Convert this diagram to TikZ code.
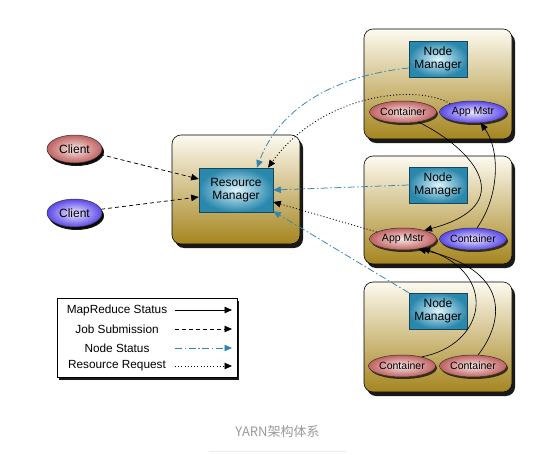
\documentclass[tikz,border=0pt]{standalone}
\usepackage{fontspec}
\setmainfont{Liberation Sans}
\newfontfamily\cjkfont{Noto Sans CJK SC}
\usetikzlibrary{shadows,arrows.meta,calc,shapes.geometric}
\definecolor{boxtop}{HTML}{FDFAF0}
\definecolor{boxmid}{HTML}{E8D9A8}
\definecolor{boxbot}{HTML}{A5851F}
\definecolor{tealout}{HTML}{2A88AD}
\definecolor{tealin}{HTML}{DDF5FC}
\definecolor{tealedge}{HTML}{16465E}
\definecolor{redout}{HTML}{C06060}
\definecolor{redin}{HTML}{F8E8E8}
\definecolor{purout}{HTML}{5A48E8}
\definecolor{purin}{HTML}{EEEAFF}
\definecolor{nsblue}{HTML}{3384AE}
\definecolor{capgray}{HTML}{9A9A9A}
\definecolor{rulegray}{HTML}{ECECEC}
\begin{document}
\begin{tikzpicture}[x=1pt,y=-1pt,
  hostbox/.style={draw=black, line width=0.6pt, rounded corners=9pt,
    minimum width=148pt, minimum height=110pt, inner sep=0pt,
    top color=boxtop, middle color=boxmid, bottom color=boxbot,
    drop shadow={shadow xshift=3pt,shadow yshift=-4pt,fill=black,opacity=0.9}},
  mgr/.style={draw=tealedge, line width=0.6pt, inner color=tealin, outer color=tealout,
    minimum width=58pt, minimum height=36pt, inner sep=0pt, align=center,
    font=\fontsize{12}{13.5}\selectfont},
  redell/.style={ellipse, draw=black!80, line width=0.5pt, inner color=redin, outer color=redout,
    minimum width=67pt, minimum height=22pt, inner sep=0pt,
    font=\fontsize{10.5}{11}\selectfont,
    drop shadow={shadow xshift=1.5pt,shadow yshift=-2pt,fill=black,opacity=0.7}},
  purell/.style={redell, inner color=purin, outer color=purout},
  clientred/.style={redell, minimum width=55pt, minimum height=28pt,
    font=\fontsize{12}{13}\selectfont,
    drop shadow={shadow xshift=2pt,shadow yshift=-3pt,fill=black,opacity=0.9}},
  clientpur/.style={clientred, inner color=purin, outer color=purout},
  tipk/.style={-{Triangle[length=7.5pt,width=6.5pt]}},
  mrstat/.style={tipk, draw=black, line width=0.65pt},
  jobsub/.style={tipk, draw=black, line width=0.75pt, dash pattern=on 4pt off 3pt},
  nodestat/.style={tipk, draw=nsblue, line width=0.75pt, dash pattern=on 7pt off 2.5pt on 1.5pt off 2.5pt},
  resreq/.style={tipk, draw=black, line width=0.85pt, dash pattern=on 1pt off 2.2pt},
  legtxt/.style={font=\fontsize{11.8}{12.5}\selectfont, inner sep=0pt}
]
\useasboundingbox (0,0) rectangle (560,455);
\fill[white] (0,0) rectangle (560,455);

% host boxes
\node[hostbox] (b1) at (438,84) {};
\node[hostbox, minimum height=108pt] (b2) at (438,210) {};
\node[hostbox] (b3) at (438,337) {};
\node[hostbox, minimum width=128pt, minimum height=109pt] (rmbox) at (236,189.5) {};

% managers
\node[mgr] (nm1) at (438,59) {Node\\Manager};
\node[mgr] (nm2) at (438,185) {Node\\Manager};
\node[mgr] (nm3) at (438,311) {Node\\Manager};
\node[mgr, minimum width=74pt, minimum height=44pt] (rm) at (236,190) {Resource\\Manager};

% ellipses
\node[redell] (c1) at (403,112) {Container};
\node[purell] (am1) at (473,112) {App Mstr};
\node[redell] (am2) at (403,239) {App Mstr};
\node[purell] (c2) at (473,239) {Container};
\node[redell] (c3a) at (402,366) {Container};
\node[redell] (c3b) at (473,366) {Container};

% clients
\node[clientred] (cl1) at (74.5,149) {Client};
\node[clientpur] (cl2) at (74.5,213) {Client};

% job submission
\draw[jobsub] (cl1.-12) -- ($(rm.west)+(0,-11)$);
\draw[jobsub] (cl2.8) -- ($(rm.west)+(0,7)$);

% node status
\draw[nodestat] ($(nm1.west)+(0,9)$) .. controls (340,75) and (280,105) .. ($(rm.north)+(21,0)$);
\draw[nodestat] (nm2.west) -- (rm.east);
\draw[nodestat] (nm3.north west) -- ($(rm.south east)+(0,-1)$);

% resource requests
\draw[resreq] (am1.160) .. controls (415,83) and (320,95) .. ($(rm.north)+(32,0)$);
\draw[resreq] (am2.165) -- ($(rm.east)+(0,12)$);

% mapreduce status
\draw[mrstat] (c1.-33) .. controls (475,150) and (520,205) .. (am2.22);
\draw[mrstat] (c2.70) .. controls (500,195) and (500,150) .. (am1.-55);
\draw[mrstat] (c3a.25) .. controls (485,345) and (500,275) .. (am2.-25);
\draw[mrstat] (c3b.65) .. controls (505,320) and (510,270) .. (am2.-33);

% legend
\node[draw=black, line width=0.6pt, fill=white, minimum width=180pt, minimum height=79pt, inner sep=0pt,
  drop shadow={shadow xshift=2pt,shadow yshift=-3pt,fill=black,opacity=0.9}] (leg) at (147,337.5) {};
\node[legtxt] (l1) at (117,310) {MapReduce Status};
\node[legtxt] (l2) at (117,329) {Job Submission};
\node[legtxt] (l3) at (117,348) {Node Status};
\node[legtxt] (l4) at (117,366) {Resource Request};
\coordinate (s1) at (175,310); \coordinate (e1) at (232,310);
\coordinate (s2) at (175,329); \coordinate (e2) at (232,329);
\coordinate (s3) at (175,348); \coordinate (e3) at (232,348);
\coordinate (s4) at (175,366); \coordinate (e4) at (232,366);
\draw[mrstat] (s1) -- (e1);
\draw[jobsub] (s2) -- (e2);
\draw[nodestat] (s3) -- (e3);
\draw[resreq] (s4) -- (e4);

% caption
\node[font=\cjkfont\fontsize{13}{15}\selectfont, text=capgray] (cap) at (277.5,432) {YARN架构体系};
\coordinate (ul) at (209,451.5); \coordinate (ur) at (346,451.5);
\draw[rulegray, line width=0.8pt] (ul) -- (ur);
\end{tikzpicture}
\end{document}
